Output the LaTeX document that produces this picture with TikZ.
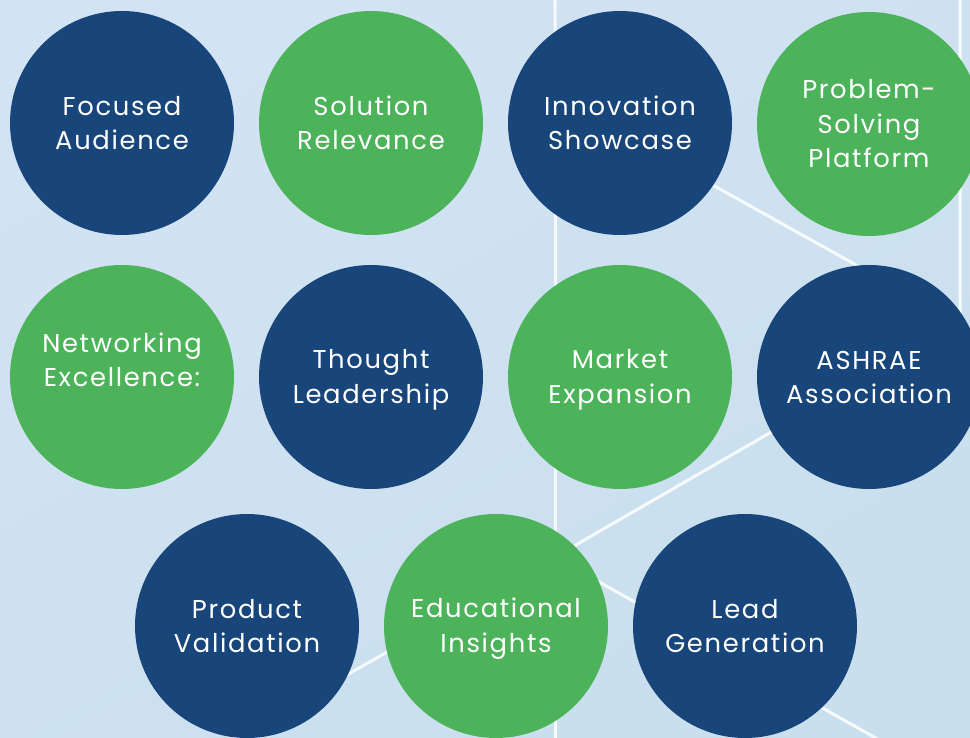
\documentclass[tikz,border=0pt]{standalone}
\usepackage{fontspec}
\setmainfont[LetterSpace=6.5]{Poppins}
\definecolor{bgtop}{RGB}{210,227,243}
\definecolor{bgbot}{RGB}{201,223,237}
\definecolor{navy}{RGB}{24,69,122}
\definecolor{leaf}{RGB}{77,179,91}
\newcommand\lstrut{\rule[-6pt]{0pt}{31pt}}
\tikzset{
  bubble/.style={circle, minimum size=224pt, inner sep=0pt, text=white, align=center,
    font=\fontsize{25.8}{34.5}\selectfont},
  navybubble/.style={bubble, fill=navy},
  leafbubble/.style={bubble, fill=leaf},
  gridline/.style={white, line width=3pt, opacity=0.85}
}
\begin{document}
\begin{tikzpicture}[x=1pt,y=-1pt]
\useasboundingbox (0,0) rectangle (970,738);
\clip (0,0) rectangle (970,738);
\shade[top color=bgtop, bottom color=bgbot, shading angle=30] (0,0) rectangle (970,738);
% background network lines
\coordinate (g1) at (555,-5);
\coordinate (g2) at (555,97);
\coordinate (g3) at (960,323);
\coordinate (g4) at (960,-5);
\coordinate (g5) at (555,557);
\coordinate (g6) at (555,745);
\coordinate (g7) at (200,758);
\coordinate (g8) at (920,763);
\draw[gridline] (g1) -- (g2) -- (g3) -- (g4);
\draw[gridline] (g3) -- (g5) -- (g7);
\draw[gridline] (g2) -- (g5) -- (g6);
\draw[gridline] (g5) -- (g8);
% row 1
\node[navybubble] (fa) at (122,123) {\lstrut Focused\\Audience\lstrut};
\node[leafbubble] (sr) at (371,123) {\lstrut Solution\\Relevance\lstrut};
\node[navybubble] (is) at (620,123) {\lstrut Innovation\\Showcase\lstrut};
\node[leafbubble] (ps) at (869,124) {\lstrut Problem-\\Solving\\Platform\lstrut};
% row 2
\node[leafbubble] (ne) at (122,377) {\lstrut Networking\\Excellence:\\\lstrut};
\node[navybubble] (tl) at (371,377) {\lstrut Thought\\Leadership\lstrut};
\node[leafbubble] (me) at (620,377) {\lstrut Market\\Expansion\lstrut};
\node[navybubble] (aa) at (869,377) {\lstrut ASHRAE\\Association\lstrut};
% row 3
\node[navybubble] (pv) at (247,626) {\lstrut Product\\Validation\lstrut};
\node[leafbubble] (ei) at (496,626) {\lstrut Educational\\Insights\lstrut};
\node[navybubble] (lg) at (745,626) {\lstrut Lead\\Generation\lstrut};
\end{tikzpicture}
\end{document}
